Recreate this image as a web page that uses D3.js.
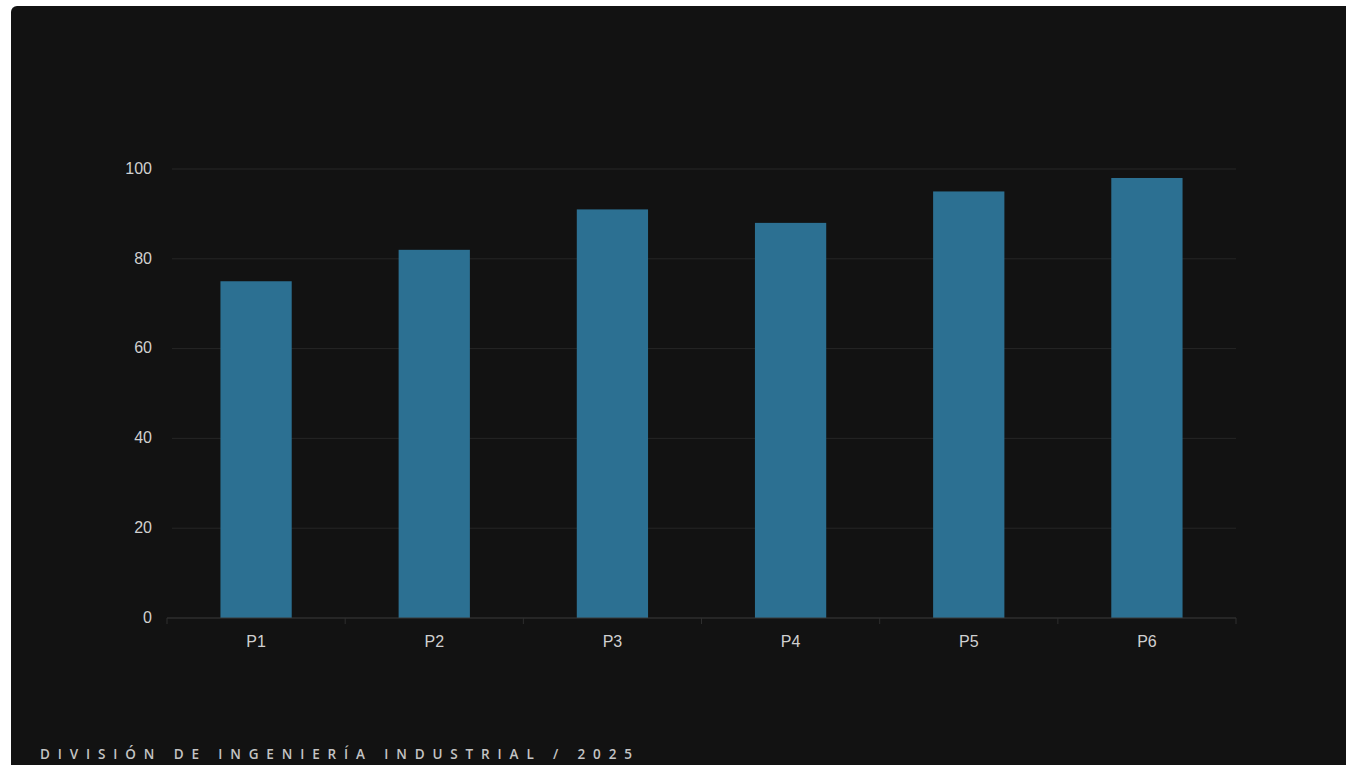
<!DOCTYPE html>
<html>
<head>
<meta charset="utf-8">
<script src="https://cdn.jsdelivr.net/npm/d3@7"></script>
<style>
  html, body { margin: 0; padding: 0; background: #ffffff; }
  svg { display: block; }
</style>
</head>
<body>
<svg id="chart" width="1346" height="765"></svg>
<script>
const categories = ["P1", "P2", "P3", "P4", "P5", "P6"];
const values = [75, 82, 91, 88, 95, 98];
const yTicks = [0, 20, 40, 60, 80, 100];
const footerText = "DIVISIÓN DE INGENIERÍA INDUSTRIAL / 2025";

(function () {
const svg = d3.select("#chart");
const W = 1346, H = 765;

// dark panel
svg.append("rect")
  .attr("x", 11).attr("y", 6)
  .attr("width", W - 11 + 10).attr("height", H - 6 + 10)
  .attr("rx", 6)
  .attr("fill", "#121212");

const plotL = 167, plotR = 1236, plotT = 169, plotB = 618;

const x = d3.scaleBand().domain(categories).range([plotL, plotR]).padding(0);
const y = d3.scaleLinear().domain([0, 100]).range([plotB, plotT]);

// gridlines
svg.append("g")
  .selectAll("line")
  .data(yTicks.filter(d => d !== 0))
  .join("line")
  .attr("x1", plotL + 5).attr("x2", plotR)
  .attr("y1", d => y(d)).attr("y2", d => y(d))
  .attr("stroke", "#262626")
  .attr("stroke-width", 1);

// bars
const barFrac = 0.4;
svg.append("g")
  .selectAll("rect")
  .data(categories.map((c, i) => ({ c, v: values[i] })))
  .join("rect")
  .attr("x", d => x(d.c) + x.bandwidth() * (1 - barFrac) / 2)
  .attr("width", x.bandwidth() * barFrac)
  .attr("y", d => y(d.v))
  .attr("height", d => y(0) - y(d.v))
  .attr("fill", "#2c7092");

// x axis
const xAxis = svg.append("g").attr("transform", `translate(0,${plotB})`);
xAxis.append("line")
  .attr("x1", plotL).attr("x2", plotR)
  .attr("y1", 0).attr("y2", 0)
  .attr("stroke", "#3a3a3a");
const boundaries = categories.map(c => x(c)).concat([plotR]);
xAxis.selectAll("line.tick")
  .data(boundaries)
  .join("line")
  .attr("class", "tick")
  .attr("x1", d => d).attr("x2", d => d)
  .attr("y1", 0).attr("y2", 6)
  .attr("stroke", "#2e2e2e");
xAxis.selectAll("text")
  .data(categories)
  .join("text")
  .attr("x", d => x(d) + x.bandwidth() / 2)
  .attr("y", 29)
  .attr("text-anchor", "middle")
  .attr("font-family", "Liberation Sans, Arial, sans-serif")
  .attr("font-size", 16)
  .attr("fill", "#d0d0d0")
  .text(d => d);

// y axis labels
svg.append("g")
  .selectAll("text")
  .data(yTicks)
  .join("text")
  .attr("x", 152)
  .attr("y", d => y(d))
  .attr("dy", "0.3em")
  .attr("text-anchor", "end")
  .attr("font-family", "Liberation Sans, Arial, sans-serif")
  .attr("font-size", 16)
  .attr("fill", "#d0d0d0")
  .text(d => d);

// footer, letter spacing fitted to span the same width as the reference
const footer = svg.append("text")
  .attr("x", 40)
  .attr("y", 759)
  .attr("font-family", "Open Sans, sans-serif")
  .attr("font-size", 13.5)
  .attr("font-weight", 600)
  .attr("fill", "#c4c4c4")
  .text(footerText);
const natural = footer.node().getComputedTextLength();
const n = footerText.length;
const spacing = (592 - natural) / (n - 1);
footer.attr("letter-spacing", spacing + "px");
})();
</script>
</body>
</html>
